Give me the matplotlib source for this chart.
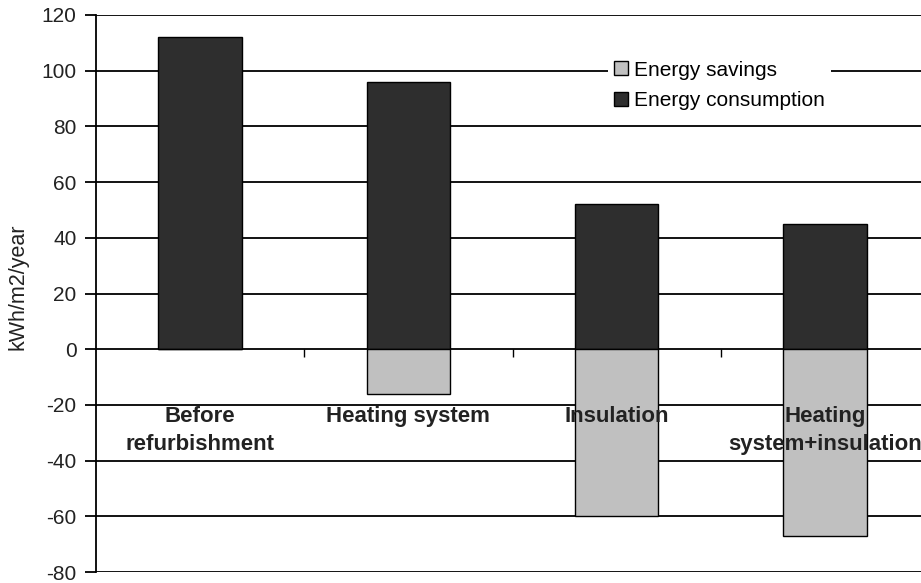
import matplotlib.pyplot as plt
import numpy as np
from matplotlib.patches import Patch

plt.rcParams["font.family"] = ["Liberation Sans", "DejaVu Sans"]
plt.rcParams["axes.unicode_minus"] = False

# Energy demand per scenario (kWh/m2/year)
categories = ["Before\nrefurbishment", "Heating system", "Insulation", "Heating\nsystem+insulation"]
consumption = [112, 96, 52, 45]
savings = [0, -16, -60, -67]

dark = "#2e2e2e"
light = "#c0c0c0"

fig = plt.figure(figsize=(9.21, 5.83), dpi=100)
ax = fig.add_axes([96 / 921, 11 / 583, 833 / 921, 557 / 583])

x = np.arange(len(categories))
ax.bar(x, consumption, width=0.4, color=dark, edgecolor="black", linewidth=1.0, zorder=2)
ax.bar(x, savings, width=0.4, color=light, edgecolor="black", linewidth=1.0, zorder=2)

ax.set_xlim(-0.5, len(categories) - 0.5)
ax.set_ylim(-80, 120)
ax.set_yticks(np.arange(-80, 121, 20))

# horizontal grid behind the bars
ax.set_axisbelow(True)
ax.grid(axis="y", color="black", linewidth=1.3)

for side in ["top", "right", "bottom"]:
    ax.spines[side].set_visible(False)
ax.spines["left"].set_linewidth(1.3)

# small ticks on the zero line between categories
ax.set_xticks(x[:-1] + 0.5)
ax.set_xticklabels([])
ax.tick_params(axis="x", direction="out", length=6, width=1.0, color="black")
ax.xaxis.set_ticks_position("bottom")
ax.spines["bottom"].set_position(("data", 0))

ax.tick_params(axis="y", direction="out", length=8, width=1.3, pad=6,
               labelsize=15, labelcolor="#222222")

for xi, label in zip(x, categories):
    ax.text(xi, -20.3, label, ha="center", va="top", fontsize=16,
            fontweight="bold", color="#222222", linespacing=1.45, zorder=5)

ax.set_ylabel("kWh/m2/year", fontsize=15.5, color="#222222")
ax.yaxis.set_label_coords(-0.081, 0.513)

handles = [
    Patch(facecolor=light, edgecolor="black", linewidth=1.0, label="Energy savings"),
    Patch(facecolor=dark, edgecolor="black", linewidth=1.0, label="Energy consumption"),
]
leg = ax.legend(handles=handles, loc="upper left", bbox_to_anchor=(0.602, 0.948),
                frameon=True, fontsize=15, handlelength=0.65, handleheight=0.65,
                handletextpad=0.3, labelspacing=0.55, borderpad=0.3, fancybox=False)
leg.get_frame().set_edgecolor("none")
leg.get_frame().set_facecolor("white")
leg.get_frame().set_alpha(1.0)

fig.savefig("out.png", dpi=100)
